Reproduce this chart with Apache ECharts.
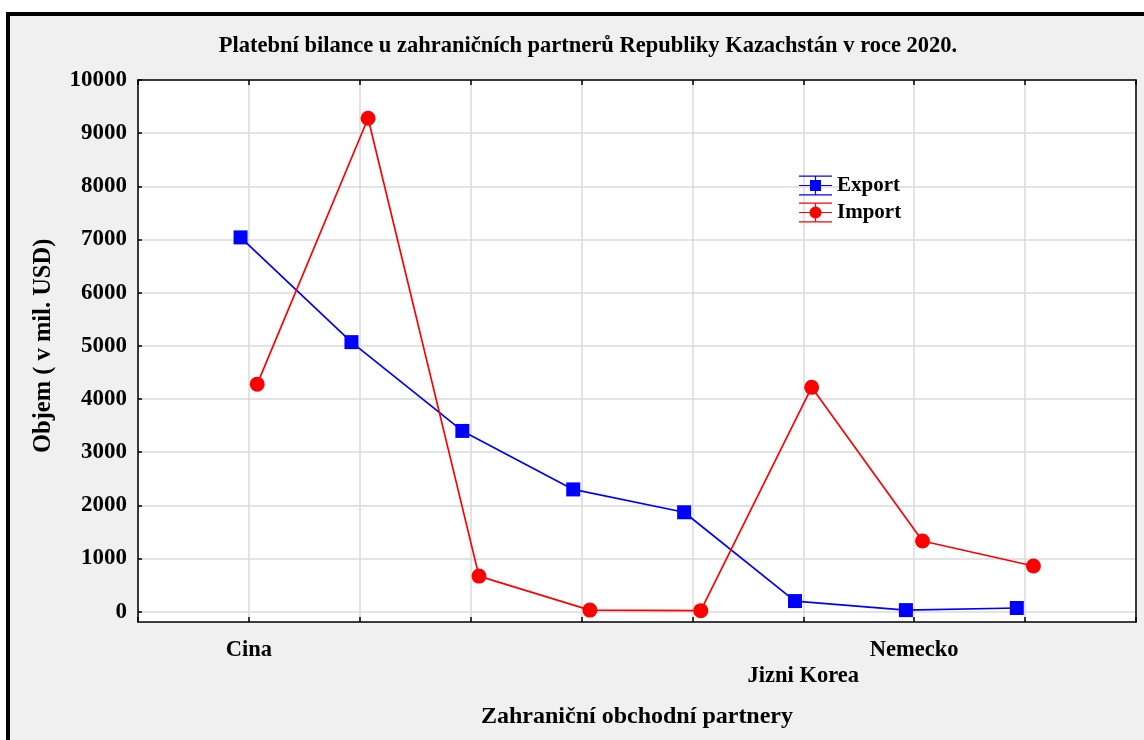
<!DOCTYPE html>
<html lang="cs">
<head>
    <meta charset="UTF-8">
    <title>Platební bilance</title>
    <script src="https://cdn.jsdelivr.net/npm/echarts@6/dist/echarts.min.js"></script>
    <style>
        html, body { margin: 0; padding: 0; background: #fff; }
        #frame {
            position: absolute; left: 6px; top: 12px; width: 1150px; height: 740px;
            border-left: 4px solid #000; border-top: 4px solid #000;
            background: #f0f0f0;
        }
        #chart { position: absolute; left: 0; top: 0; width: 1144px; height: 740px; }
    </style>
</head>
<body>
<div id="frame"></div>
<div id="chart"></div>
<script>
    // partneri (nectitelne popisky ponechany prazdne)
    var partners = ['Cina', '', '', '', '', 'Jizni Korea', 'Nemecko', ''];
    var exportVals = [7040, 5070, 3400, 2300, 1870, 200, 30, 70];
    var importVals = [4280, 9280, 670, 30, 20, 4220, 1330, 860];
    var yTicks = [0, 1000, 2000, 3000, 4000, 5000, 6000, 7000, 8000, 9000, 10000];

    var shift = 0.075;
    var font = 'Liberation Serif';

    var myChart = echarts.init(document.getElementById('chart'), null, {renderer: 'canvas'});

    var frameLine = {show: true, onZero: false, lineStyle: {color: '#000', width: 1.5}};

    option = {
        backgroundColor: 'transparent',
        textStyle: {fontFamily: font},
        title: {
            text: 'Platební bilance u zahraničních partnerů Republiky Kazachstán v roce 2020.',
            left: 583, textAlign: 'center', top: 30,
            textStyle: {fontFamily: font, fontWeight: 'bold', fontSize: 22.5, color: '#000'}
        },
        legend: {
            data: ['Export', 'Import'],
            orient: 'vertical',
            left: 794, top: 170,
            itemWidth: 33, itemHeight: 20, itemGap: 6,
            textStyle: {fontFamily: font, fontWeight: 'bold', fontSize: 21, color: '#000'}
        },
        grid: [
            {left: 138, right: 8, top: 80, bottom: 118, show: true, backgroundColor: '#fff', borderWidth: 0},
            {left: 138, right: 8, top: 80, bottom: 128.3, show: false}
        ],
        xAxis: [{
            gridIndex: 0, type: 'value', position: 'bottom', min: 0, max: 9, interval: 1,
            axisLine: frameLine,
            axisTick: {show: true, inside: true, length: 5, lineStyle: {color: '#000', width: 1.5}},
            splitLine: {show: true, lineStyle: {color: '#dadada', width: 1.5}},
            axisLabel: {
                margin: 17,
                formatter: function (v) {
                    var i = Math.round(v) - 1;
                    if (i < 0 || i >= partners.length || !partners[i]) return '';
                    return (i % 2 === 0 ? '{a|' : '{b|') + partners[i] + '}';
                },
                rich: {
                    a: {fontFamily: font, fontWeight: 'bold', fontSize: 22.5, color: '#000'},
                    b: {fontFamily: font, fontWeight: 'bold', fontSize: 22.5, color: '#000', padding: [26, 0, 0, 0]}
                }
            },
            name: 'Zahraniční obchodní partnery',
            nameLocation: 'middle', nameGap: 83,
            nameTextStyle: {fontFamily: font, fontWeight: 'bold', fontSize: 24, color: '#000'}
        }, {
            gridIndex: 0, type: 'value', position: 'top', min: 0, max: 9, interval: 1, z: 3,
            axisLine: frameLine,
            axisTick: {show: true, inside: true, length: 5, lineStyle: {color: '#000', width: 1.5}},
            axisLabel: {show: false}, splitLine: {show: false}
        }, {
            gridIndex: 1, type: 'value', min: 0, max: 9, show: false
        }],
        yAxis: [{
            gridIndex: 0, type: 'value', position: 'left', min: -193.6, max: 10000, z: 3,
            axisLine: frameLine, axisTick: {show: false}, axisLabel: {show: false}, splitLine: {show: false}
        }, {
            gridIndex: 0, type: 'value', position: 'right', min: -193.6, max: 10000, z: 3,
            axisLine: frameLine, axisTick: {show: false}, axisLabel: {show: false}, splitLine: {show: false}
        }, {
            gridIndex: 1, type: 'value', position: 'left', min: yTicks[0], max: yTicks[yTicks.length - 1], interval: 1000,
            axisLine: {show: false},
            axisTick: {show: true, inside: true, length: 4, lineStyle: {color: '#000', width: 1.5}},
            splitLine: {show: true, lineStyle: {color: '#dadada', width: 1.5}},
            axisLabel: {
                margin: 11, fontFamily: font, fontWeight: 'bold', fontSize: 23, color: '#000',
                formatter: function (v) { return String(v); }
            },
            name: 'Objem ( v mil. USD)',
            nameLocation: 'middle', nameGap: 82, nameRotate: 90,
            nameTextStyle: {fontFamily: font, fontWeight: 'bold', fontSize: 24.5, color: '#000'}
        }],
        series: [{
            name: 'Export',
            type: 'line',
            xAxisIndex: 0, yAxisIndex: 0,
            data: exportVals.map(function (v, i) { return [i + 1 - shift, v]; }),
            symbol: 'rect', symbolSize: 14,
            color: '#0000ff',
            lineStyle: {color: '#0000ff', width: 1.7},
            itemStyle: {color: '#0000ff'},
            animation: false
        }, {
            name: 'Import',
            type: 'line',
            xAxisIndex: 0, yAxisIndex: 0,
            data: importVals.map(function (v, i) { return [i + 1 + shift, v]; }),
            symbol: 'circle', symbolSize: 15,
            color: '#ff0000',
            lineStyle: {color: '#ff0000', width: 1.7},
            itemStyle: {color: '#ff0000'},
            animation: false
        }]
    };

    // ikony legendy: cara s "chybovymi" vousy a znackou
    var bars = 'M0 0H33V1.2H0Z M0 9.4H33V10.6H0Z M0 18.8H33V20H0Z M15.9 0H17.1V20H15.9Z ';
    option.legend.data = [
        {name: 'Export', icon: 'path://' + bars + 'M11 4.5H22V15.5H11Z'},
        {name: 'Import', icon: 'path://' + bars + 'M22.5 10A6 6 0 1 1 10.5 10A6 6 0 1 1 22.5 10Z'}
    ];

    myChart.setOption(option);
</script>
</body>
</html>
